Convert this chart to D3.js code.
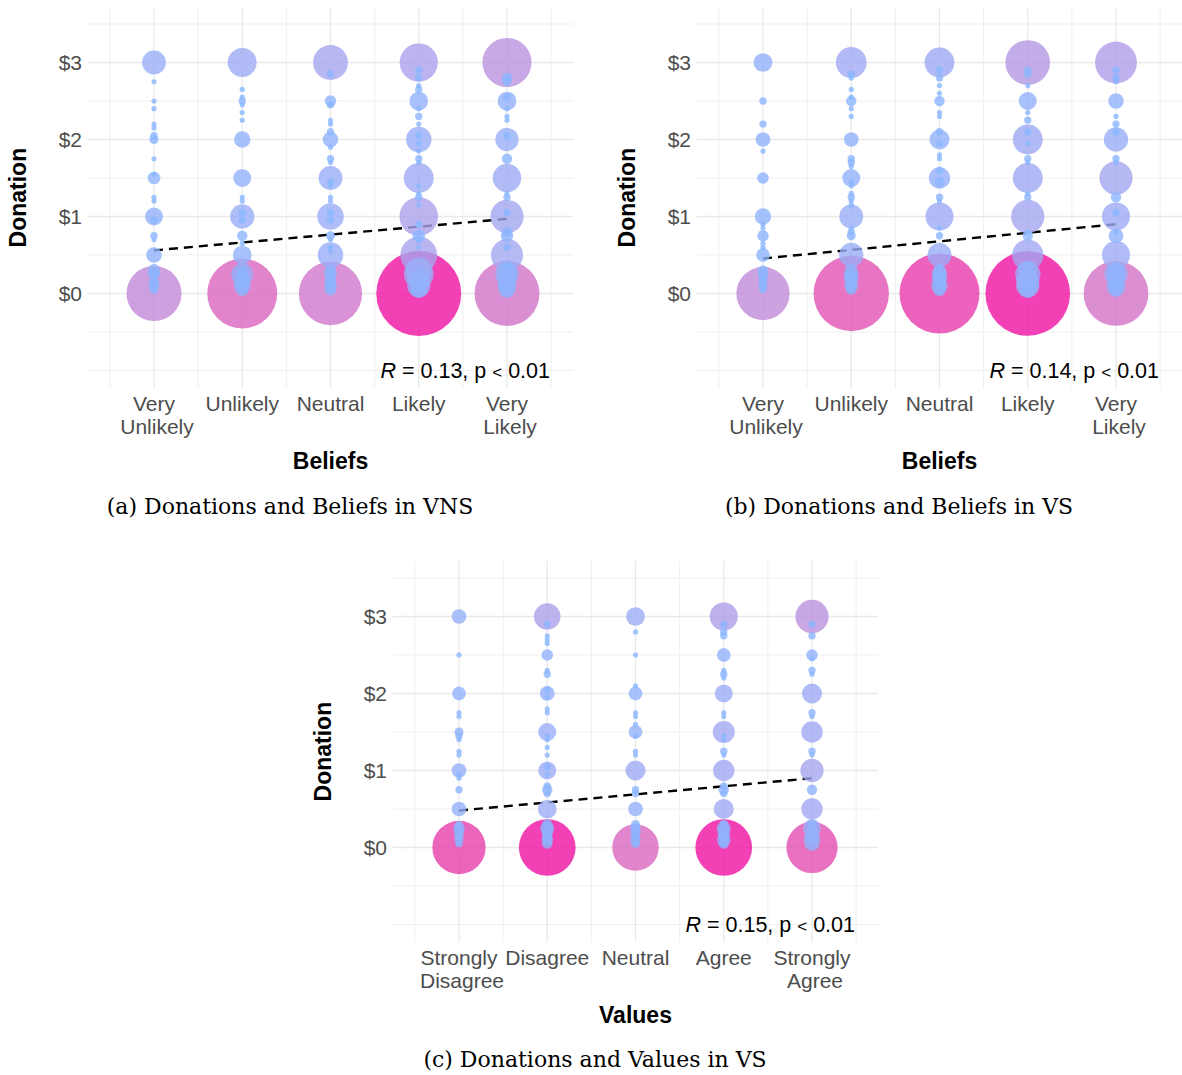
<!DOCTYPE html>
<html>
<head>
<meta charset="utf-8">
<script src="https://cdn.jsdelivr.net/npm/d3@7"></script>
<style>
  body { margin: 0; background: #ffffff; }
  svg { display: block; }
</style>
</head>
<body>
<script>
// ---------- DATA ----------
const beliefLabels = [["Very", "Unlikely"], ["Unlikely"], ["Neutral"], ["Likely"], ["Very", "Likely"]];
const valueLabels = [["Strongly", "Disagree"], ["Disagree"], ["Neutral"], ["Agree"], ["Strongly", "Agree"]];
const yTickValues = [0, 1, 2, 3];
const yTickLabels = ["$0", "$1", "$2", "$3"];

// [donation, number of respondents] per answer category
const vnsBeliefs = [
  [[3,21],[2.75,1],[2.5,1],[2.4,1],[2.2,1],[2.15,1],[2.05,2],[2,3],[1.75,1],[1.55,1],[1.5,6],[1.25,1],[1.2,1],[1,12],[0.95,2],[0.75,2],[0.7,1],[0.5,9],[0.3,6],[0.25,5],[0.15,4],[0.1,4],[0.05,3],[0,112]],
  [[3,31],[2.65,1],[2.55,1],[2.5,2],[2.45,1],[2.35,1],[2.25,1],[2,10],[1.5,12],[1.25,1],[1.2,1],[1.05,2],[1,22],[0.95,2],[0.75,4],[0.65,1],[0.5,13],[0.3,4],[0.25,18],[0.2,8],[0.15,10],[0.1,10],[0.05,6],[0,181]],
  [[3,45],[2.85,2],[2.5,5],[2.45,2],[2.25,1],[2.2,1],[2.1,2],[2,9],[1.9,1],[1.75,2],[1.7,1],[1.5,21],[1.45,2],[1.4,1],[1.25,1],[1.2,1],[1.05,2],[1,26],[0.95,2],[0.75,3],[0.7,1],[0.6,1],[0.55,1],[0.5,24],[0.3,5],[0.25,6],[0.2,4],[0.15,5],[0.1,6],[0.05,5],[0,148]],
  [[3,54],[2.9,2],[2.8,2],[2.7,1],[2.65,2],[2.5,13],[2.4,1],[2.3,2],[2.2,1],[2.05,2],[2,24],[1.95,1],[1.85,1],[1.75,2],[1.7,1],[1.5,33],[1.4,1],[1.3,1],[1.25,2],[1.15,1],[1,55],[0.9,2],[0.75,6],[0.7,2],[0.6,1],[0.5,50],[0.3,26],[0.25,33],[0.2,20],[0.15,15],[0.1,20],[0.05,10],[0,267]],
  [[3,89],[2.8,4],[2.75,3],[2.55,2],[2.5,13],[2.4,1],[2.3,1],[2.25,1],[2.05,2],[2,20],[1.75,4],[1.5,30],[1.3,1],[1.25,2],[1.05,2],[1,41],[0.8,4],[0.75,6],[0.6,2],[0.5,38],[0.35,2],[0.3,15],[0.25,20],[0.2,13],[0.15,13],[0.1,13],[0.05,10],[0,156]]
];
const vsBeliefs = [
  [[3,13],[2.5,2],[2.2,2],[2,8],[1.85,1],[1.5,5],[1,10],[0.9,1],[0.85,1],[0.75,5],[0.65,1],[0.6,1],[0.5,7],[0.3,4],[0.25,4],[0.2,3],[0.15,3],[0.1,3],[0.05,2],[0,105]],
  [[3,35],[2.85,2],[2.8,1],[2.65,1],[2.55,1],[2.5,4],[2.4,1],[2.3,1],[2,8],[1.75,2],[1.7,2],[1.65,1],[1.5,12],[1.45,1],[1.4,1],[1.3,1],[1.25,2],[1.2,1],[1.15,1],[1,21],[0.85,1],[0.8,2],[0.75,3],[0.5,22],[0.3,6],[0.25,8],[0.2,8],[0.15,5],[0.1,7],[0.05,4],[0,210]],
  [[3,33],[2.9,2],[2.8,2],[2.7,1],[2.6,1],[2.5,4],[2.35,1],[2.3,1],[2.1,2],[2,15],[1.95,2],[1.8,1],[1.75,1],[1.6,2],[1.5,17],[1.45,4],[1.25,2],[1.2,1],[1,29],[0.85,1],[0.75,2],[0.5,21],[0.35,1],[0.3,6],[0.25,9],[0.2,8],[0.15,6],[0.1,10],[0.05,6],[0,237]],
  [[3,74],[2.9,2],[2.85,2],[2.7,1],[2.5,12],[2.35,1],[2.25,2],[2.1,2],[2,33],[1.95,1],[1.75,2],[1.7,1],[1.5,33],[1.3,1],[1.25,2],[1,41],[0.8,1],[0.75,4],[0.5,36],[0.3,14],[0.25,24],[0.2,14],[0.15,20],[0.1,20],[0.05,10],[0,265]],
  [[3,65],[2.9,2],[2.8,2],[2.75,1],[2.5,9],[2.3,1],[2.2,2],[2.1,2],[2,22],[1.75,2],[1.7,1],[1.5,41],[1.25,4],[1.05,2],[1,29],[0.8,1],[0.75,8],[0.5,29],[0.3,10],[0.25,20],[0.2,12],[0.15,10],[0.1,13],[0.05,8],[0,155]]
];
const vsValues = [
  [[3,8],[2.5,1],[2,7],[1.75,1],[1.7,1],[1.5,3],[1.45,2],[1.4,1],[1.25,1],[1.2,1],[1,8],[0.95,1],[0.9,1],[0.75,2],[0.5,8],[0.3,2],[0.25,5],[0.2,4],[0.15,3],[0.1,3],[0.05,2],[0,105]],
  [[3,26],[2.9,2],[2.75,1],[2.7,1],[2.65,1],[2.5,5],[2.3,1],[2.25,2],[2.05,2],[2,8],[1.95,1],[1.8,1],[1.75,1],[1.5,12],[1.45,1],[1.4,1],[1.3,1],[1.2,1],[1.05,2],[1,12],[0.95,1],[0.8,2],[0.75,4],[0.7,2],[0.5,13],[0.3,4],[0.25,7],[0.2,5],[0.15,4],[0.1,5],[0.05,4],[0,119]],
  [[3,13],[2.8,1],[2.5,1],[2.1,1],[2,7],[1.75,1],[1.7,1],[1.6,1],[1.5,7],[1.45,1],[1.25,1],[1.2,1],[1,15],[0.75,2],[0.7,2],[0.5,8],[0.3,3],[0.25,4],[0.2,4],[0.15,3],[0.1,4],[0.05,3],[0,80]],
  [[3,29],[2.9,2],[2.8,2],[2.75,2],[2.5,7],[2.3,1],[2.25,2],[2.2,1],[2,12],[1.75,1],[1.7,1],[1.5,18],[1.45,1],[1.4,1],[1.25,2],[1.2,1],[1,17],[0.8,2],[0.75,4],[0.7,2],[0.5,15],[0.3,3],[0.25,7],[0.2,6],[0.15,5],[0.1,7],[0.05,4],[0,119]],
  [[3,41],[2.9,2],[2.75,2],[2.5,5],[2.45,1],[2.3,2],[2.25,1],[2,15],[1.75,2],[1.7,1],[1.5,17],[1.25,2],[1.2,1],[1,20],[0.75,4],[0.5,17],[0.3,4],[0.25,12],[0.2,8],[0.15,8],[0.1,10],[0.05,8],[0,97]]
];

// fitted line: predicted donation at first and last category
const trendVnsBeliefs = [0.56, 0.97];
const trendVsBeliefs = [0.455, 0.90];
const trendVsValues = [0.48, 0.90];

const corrVnsBeliefs = ["0.13", "0.01"];
const corrVsBeliefs = ["0.14", "0.01"];
const corrVsValues = ["0.15", "0.01"];

const captions = ["(a) Donations and Beliefs in VNS", "(b) Donations and Beliefs in VS", "(c) Donations and Values in VS"];
const xTitles = ["Beliefs", "Beliefs", "Values"];

// ---------- DRAWING ----------
const W = 1182, H = 1075;
const svg = d3.select("body").append("svg").attr("width", W).attr("height", H);

const SANS = "'Liberation Sans', Arial, Helvetica, sans-serif";
const SERIF = "'DejaVu Serif', serif";

const rScale = d3.scaleSqrt().domain([0, 300]).range([0, 2.6 * Math.sqrt(300)]);

function drawPanel(cfg) {
  const g = svg.append("g").attr("transform", `translate(${cfg.dx},${cfg.dy})`);
  const x = d3.scaleLinear().domain([1, 5]).range([154, 507]);
  const y = d3.scaleLinear().domain([0, 3]).range([293.5, 62.5]);
  const xLo = 0.25, xHi = 5.75, yLo = -1.23, yHi = 3.72;

  // grid
  const grid = g.append("g");
  const hMinor = [-1, -0.5, 0.5, 1.5, 2.5, 3.5];
  const vMinor = [0.5, 1.5, 2.5, 3.5, 4.5, 5.5];
  const vMajor = [1, 2, 3, 4, 5];
  grid.selectAll("line.hmin").data(hMinor).join("line")
    .attr("x1", x(xLo)).attr("x2", x(xHi)).attr("y1", d => y(d)).attr("y2", d => y(d))
    .attr("stroke", "#efefef").attr("stroke-width", 1);
  grid.selectAll("line.vmin").data(vMinor).join("line")
    .attr("y1", y(yHi)).attr("y2", y(yLo)).attr("x1", d => x(d)).attr("x2", d => x(d))
    .attr("stroke", "#efefef").attr("stroke-width", 1);
  grid.selectAll("line.hmaj").data(yTickValues).join("line")
    .attr("x1", x(xLo)).attr("x2", x(xHi)).attr("y1", d => y(d)).attr("y2", d => y(d))
    .attr("stroke", "#e9e9e9").attr("stroke-width", 1.3);
  grid.selectAll("line.vmaj").data(vMajor).join("line")
    .attr("y1", y(yHi)).attr("y2", y(yLo)).attr("x1", d => x(d)).attr("x2", d => x(d))
    .attr("stroke", "#e9e9e9").attr("stroke-width", 1.3);

  // y tick labels
  g.selectAll("text.ytick").data(yTickValues).join("text")
    .attr("x", 82).attr("y", d => y(d)).attr("dy", "0.36em")
    .attr("text-anchor", "end").attr("font-family", SANS).attr("font-size", 21)
    .attr("fill", "#4d4d4d").text((d, i) => yTickLabels[i]);

  // x tick labels
  cfg.labels.forEach((lines, i) => {
    const t = g.append("text").attr("text-anchor", "middle").attr("font-family", SANS)
      .attr("font-size", 21).attr("fill", "#4d4d4d");
    lines.forEach((ln, j) => {
      t.append("tspan").attr("x", x(i + 1) + (lines.length > 1 && j === 1 ? 3 : 0))
        .attr("y", 411 + j * 23).text(ln);
    });
  });

  // axis titles
  g.append("text").attr("x", (x(xLo) + x(xHi)) / 2).attr("y", 469)
    .attr("text-anchor", "middle").attr("font-family", SANS).attr("font-weight", "bold")
    .attr("font-size", 23).attr("fill", "#000").text(cfg.xTitle);
  g.append("text").attr("transform", `translate(26,${(y(yHi) + y(yLo)) / 2}) rotate(-90)`)
    .attr("text-anchor", "middle").attr("font-family", SANS).attr("font-weight", "bold")
    .attr("font-size", 23).attr("fill", "#000").text("Donation");

  // trend line (under the points)
  g.append("line")
    .attr("x1", x(1)).attr("y1", y(cfg.trend[0]))
    .attr("x2", x(5)).attr("y2", y(cfg.trend[1]))
    .attr("stroke", "#000").attr("stroke-width", 2.4).attr("stroke-dasharray", "9,6");

  // points
  const pts = [];
  cfg.data.forEach((col, i) => col.forEach(([v, n]) => pts.push({ c: i + 1, v, n })));
  pts.sort((a, b) => b.n - a.n);
  const maxN = d3.max(pts, d => d.n);
  const color = d3.scaleLinear().domain([1, maxN]).range(["#8ab6ff", "#ee12a2"]).interpolate(d3.interpolateLab);
  g.append("g").selectAll("circle").data(pts).join("circle")
    .attr("cx", d => x(d.c)).attr("cy", d => y(d.v)).attr("r", d => rScale(d.n))
    .attr("fill", d => color(d.n)).attr("fill-opacity", 0.8);

  // correlation label
  const ct = g.append("text").attr("x", x(5) + 43).attr("y", y(-1)).attr("dy", "0.36em")
    .attr("text-anchor", "end").attr("font-family", SANS).attr("font-size", 21.5).attr("fill", "#000");
  ct.append("tspan").attr("font-style", "italic").text("R");
  ct.append("tspan").text(` = ${cfg.corr[0]}, p `);
  ct.append("tspan").attr("font-size", 17).text("<");
  ct.append("tspan").text(` ${cfg.corr[1]}`);

  // caption
  svg.append("text").attr("x", cfg.capX).attr("y", cfg.capY).attr("text-anchor", "middle")
    .attr("font-family", SERIF).attr("font-size", 22).attr("fill", "#000").text(cfg.caption);
}

drawPanel({ dx: 0, dy: 0, data: vnsBeliefs, labels: beliefLabels, trend: trendVnsBeliefs,
  corr: corrVnsBeliefs, xTitle: xTitles[0], caption: captions[0], capX: 290, capY: 514 });
drawPanel({ dx: 609, dy: 0, data: vsBeliefs, labels: beliefLabels, trend: trendVsBeliefs,
  corr: corrVsBeliefs, xTitle: xTitles[1], caption: captions[1], capX: 899, capY: 514 });
drawPanel({ dx: 305, dy: 554, data: vsValues, labels: valueLabels, trend: trendVsValues,
  corr: corrVsValues, xTitle: xTitles[2], caption: captions[2], capX: 595, capY: 1067 });
</script>
</body>
</html>
